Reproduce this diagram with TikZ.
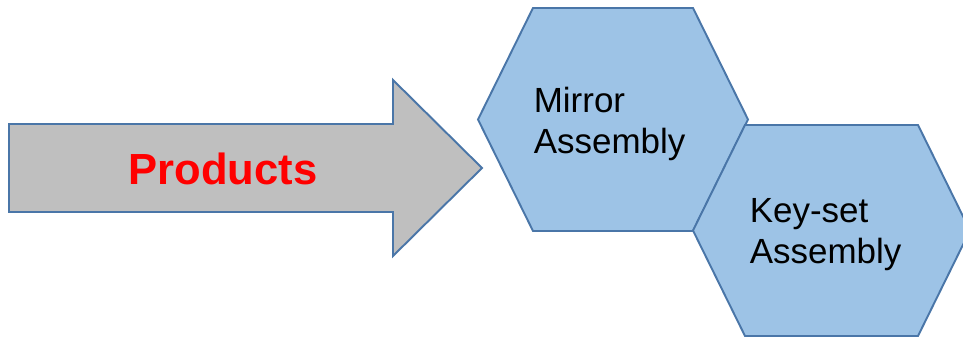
\documentclass[tikz,border=0pt]{standalone}
\usepackage{fontspec}
\setmainfont{Liberation Sans}
\definecolor{edgeblue}{HTML}{4A76A8}
\definecolor{hexfill}{HTML}{9DC3E6}
\definecolor{arrowgray}{HTML}{BFBFBF}
\tikzset{
  hexa/.style={draw=edgeblue, fill=hexfill, line width=1.1pt, line join=miter},
  bigarrow/.style={draw=edgeblue, fill=arrowgray, line width=1.1pt},
  hexlabel/.style={anchor=base west, inner sep=0pt, align=left,
    font=\fontsize{19.9}{23.9}\selectfont},
}
\begin{document}
\begin{tikzpicture}[x=0.02cm, y=-0.02cm]
  \useasboundingbox (0,0) rectangle (963,337);

  % Arrow
  \draw[bigarrow] (9,124) -- (393,124) -- (393,80) -- (482,168)
    -- (393,256) -- (393,212) -- (9,212) -- cycle;
  \node[text=red, font=\fontsize{24.8}{30}\bfseries\selectfont, anchor=base]
    (products) at (223,185) {Products};

  % Hexagons
  \coordinate (mirror) at (613,119.5);
  \coordinate (keyset) at (831.5,230.5);

  \draw[hexa] (mirror) ++(-135,0) -- ++(55,-111.5) -- ++(160,0)
    -- ++(55,111.5) -- ++(-55,111.5) -- ++(-160,0) -- cycle;
  \draw[hexa] (keyset) ++(-138.5,0) -- ++(52,-105.5) -- ++(173,0)
    -- ++(52,105.5) -- ++(-52,105.5) -- ++(-173,0) -- cycle;

  % labels (base = last line)
  \node[hexlabel] (mirrortext) at (533.5,154) {Mirror\\Assembly};
  \node[hexlabel] (keysettext) at (749.5,264) {Key-set\\Assembly};
\end{tikzpicture}
\end{document}
